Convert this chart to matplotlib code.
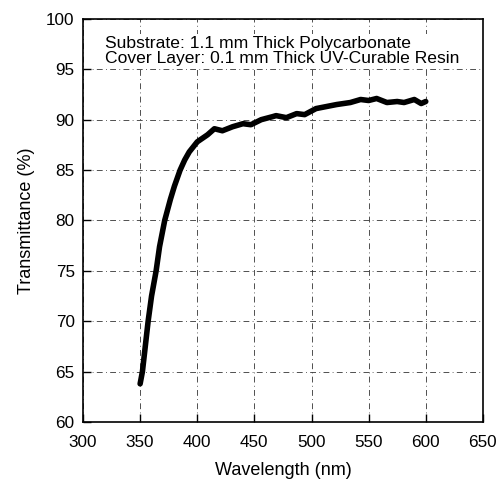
import matplotlib.pyplot as plt

plt.rcParams['font.family'] = ['Liberation Sans', 'DejaVu Sans']

# Transmittance spectrum
wavelength = [350, 352, 354.5, 357, 360, 364, 367, 371.5, 376.5, 380, 385, 389, 393, 400,
              409, 415, 422, 431, 440, 447, 456, 466, 469, 478, 487, 494, 504, 522,
              534, 543, 550, 557, 566, 575, 581, 590, 596, 600]
transmittance = [63.8, 65.0, 67.5, 70.0, 72.5, 75.0, 77.4, 80.0, 82.1, 83.4, 85.0, 86.0,
                 86.8, 87.8, 88.5, 89.1, 88.9, 89.3, 89.6, 89.5, 90.0, 90.3, 90.4, 90.2,
                 90.6, 90.5, 91.1, 91.5, 91.7, 92.0, 91.9, 92.1, 91.7, 91.8, 91.7, 92.0,
                 91.6, 91.8]

xticks = [300, 350, 400, 450, 500, 550, 600, 650]
yticks = [60, 65, 70, 75, 80, 85, 90, 95, 100]

fig = plt.figure(figsize=(5.03, 4.83), dpi=100)
ax = fig.add_axes([0.165, 0.126, 0.795, 0.835])

ax.plot(wavelength, transmittance, color='black', lw=4.0, solid_capstyle='round',
        solid_joinstyle='round')

ax.set_xlim(300, 650)
ax.set_ylim(60, 100)
ax.set_xticks(xticks)
ax.set_yticks(yticks)
ax.tick_params(direction='in', length=6, width=1, labelsize=12.3)
ax.tick_params(axis='x', pad=9)
ax.tick_params(axis='y', pad=6)
ax.grid(True, color='#333333', lw=0.6, linestyle=(0, (7, 4, 1, 4)))
for s in ax.spines.values():
    s.set_linewidth(1.2)

ax.set_xlabel('Wavelength (nm)', fontsize=13, labelpad=9)
ax.set_ylabel('Transmittance (%)', fontsize=13, labelpad=8)

ax.text(0.055, 0.958, 'Substrate: 1.1 mm Thick Polycarbonate\nCover Layer: 0.1 mm Thick UV-Curable Resin',
        transform=ax.transAxes, fontsize=12.6, va='top', ha='left', linespacing=1.05,
        bbox=dict(facecolor='white', edgecolor='none', pad=1))

fig.savefig('out.png', dpi=100)
